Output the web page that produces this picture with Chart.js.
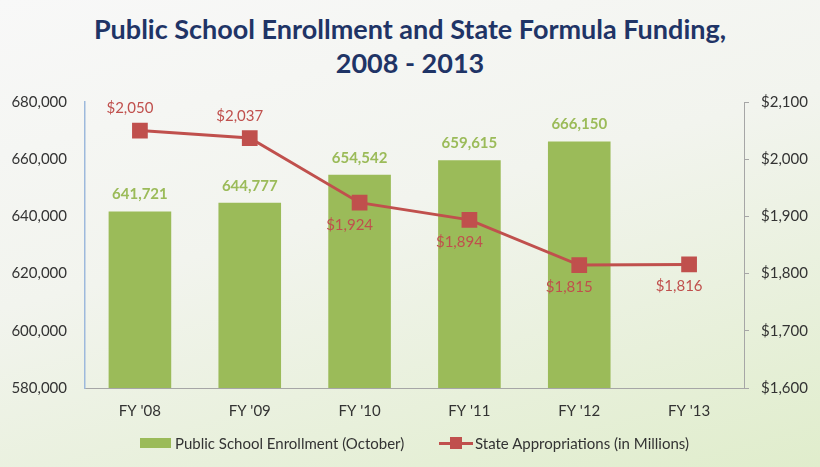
<!DOCTYPE html>
<html>
<head>
<meta charset="utf-8">
<script src="https://cdn.jsdelivr.net/npm/chart.js@4/dist/chart.umd.min.js"></script>
<style>
  html, body { margin: 0; padding: 0; }
  body {
    width: 820px; height: 467px; position: relative; overflow: hidden;
    background: linear-gradient(165deg, #f8f8f8 0%, #f2f4ee 45%, #e0edcc 100%);
    font-family: Lato, "Open Sans", sans-serif;
  }
  #title {
    position: absolute; left: 0; top: 12px; width: 820px; text-align: center;
    color: #1f3466; font-weight: bold; font-size: 27px; line-height: 34px;
  }
  #wrap { position: absolute; left: 0; top: 0; width: 820px; height: 467px; }
  #legend {
    position: absolute; top: 433px; left: 0; width: 820px; height: 20px;
    font-size: 15px; color: #333;
  }
  .item { position: absolute; top: 0; display: flex; align-items: center; height: 20px; }
  .box { width: 31px; height: 10px; background: #9bbb59; margin-right: 4px; }
  .ln { position: relative; width: 34px; height: 3px; background: #c0504d; margin-right: 2px; }
  .ln::after { content: ""; position: absolute; left: 11px; top: -5px; width: 12px; height: 12px; background: #c0504d; }
</style>
</head>
<body>
<div id="title">Public School Enrollment and State Formula Funding,<br>2008 - 2013</div>
<div id="wrap"><canvas id="chart"></canvas></div>
<div id="legend">
  <div class="item" style="left:140px"><div class="box"></div>Public School Enrollment (October)</div>
  <div class="item" style="left:439px"><div class="ln"></div>State Appropriations (in Millions)</div>
</div>
<script>
const categories = ["FY '08", "FY '09", "FY '10", "FY '11", "FY '12", "FY '13"];
const enrollment = [641721, 644777, 654542, 659615, 666150, null];
const appropriations = [2050, 2037, 1924, 1894, 1815, 1816];
const labelSide = ['top', 'top', 'bottom', 'bottom', 'bottom', 'bottom'];

const GREEN = '#9bbb59';
const RED = '#c0504d';

const valueLabels = {
    id: 'valueLabels',
    afterDatasetsDraw(chart) {
        const ctx = chart.ctx;
        ctx.save();
        ctx.textAlign = 'center';
        ctx.textBaseline = 'middle';

        // bar labels
        ctx.fillStyle = GREEN;
        ctx.font = 'bold 15px Lato';
        chart.getDatasetMeta(0).data.forEach((bar, i) => {
            if (enrollment[i] == null) return;
            ctx.fillText(enrollment[i].toLocaleString('en-US'), bar.x, bar.y - 17);
        });

        // line labels
        ctx.fillStyle = RED;
        ctx.font = '15px Lato';
        chart.getDatasetMeta(1).data.forEach((pt, i) => {
            const dy = labelSide[i] === 'top' ? -22 : 22;
            ctx.fillText('$' + appropriations[i].toLocaleString('en-US'), pt.x - 10, pt.y + dy);
        });
        ctx.restore();
    }
};

new Chart(document.getElementById('chart'), {
    data: {
        labels: categories,
        datasets: [{
            type: 'bar',
            label: 'Public School Enrollment (October)',
            data: enrollment,
            yAxisID: 'y',
            backgroundColor: GREEN,
            barPercentage: 1,
            categoryPercentage: 0.57,
            order: 1
        }, {
            type: 'line',
            label: 'State Appropriations (in Millions)',
            data: appropriations,
            yAxisID: 'y1',
            borderColor: RED,
            backgroundColor: RED,
            borderWidth: 3,
            pointStyle: 'rect',
            pointRadius: 9,
            pointHoverRadius: 9,
            order: 0
        }]
    },
    options: {
        responsive: true,
        maintainAspectRatio: false,
        animation: false,
        layout: { padding: { top: 102, left: 10, right: 0, bottom: 39 } },
        plugins: { legend: { display: false }, tooltip: { enabled: false } },
        scales: {
            x: {
                grid: { display: false, drawTicks: false },
                border: { color: '#a6a6a6', width: 1 },
                ticks: { color: '#333', font: { family: 'Lato', size: 15 }, padding: 14 },
                afterFit: s => { s.height = 40; }
            },
            y: {
                position: 'left',
                min: 580000, max: 680000,
                grid: { display: false, drawTicks: false },
                border: { color: '#9db9dc', width: 1.5 },
                ticks: {
                    stepSize: 20000, color: '#333', padding: 18,
                    font: { family: 'Lato', size: 15 },
                    callback: v => v.toLocaleString('en-US')
                },
                afterFit: s => { s.width = 75; }
            },
            y1: {
                position: 'right',
                min: 1600, max: 2100,
                grid: { drawOnChartArea: false, tickLength: 5, color: '#a6a6a6' },
                border: { color: '#a6a6a6', width: 1 },
                ticks: {
                    stepSize: 100, color: '#333', padding: 12,
                    font: { family: 'Lato', size: 15 },
                    callback: v => '$' + v.toLocaleString('en-US')
                },
                afterFit: s => { s.width = 76; }
            }
        }
    },
    plugins: [valueLabels]
});
</script>
</body>
</html>
